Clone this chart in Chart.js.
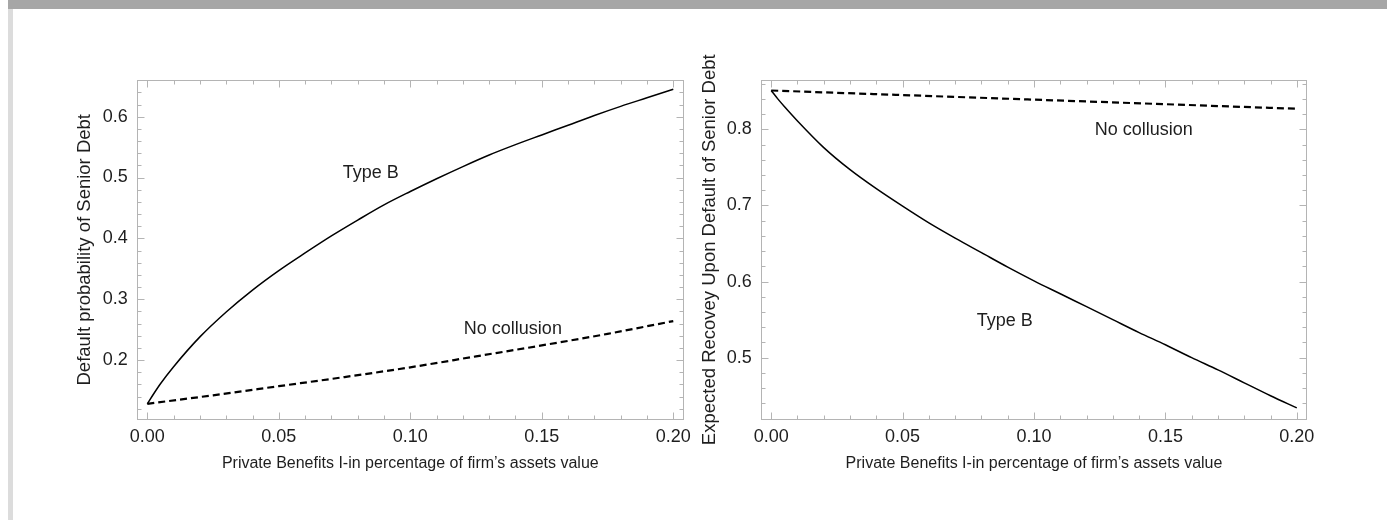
<!DOCTYPE html>
<html>
<head>
<meta charset="utf-8">
<script src="https://cdn.jsdelivr.net/npm/chart.js@4/dist/chart.umd.min.js"></script>
<style>
  html, body { margin: 0; padding: 0; background: #fff; }
  #page { position: relative; width: 1387px; height: 520px; overflow: hidden; background: #fff; }
  #topbar { position: absolute; left: 8px; top: 0; width: 1379px; height: 9px; background: #a6a6a6; }
  #sidebar { position: absolute; left: 8px; top: 9px; width: 5px; height: 511px; background: #dcdcdc; }
  canvas { position: absolute; left: 0; top: 0; }
</style>
</head>
<body>
<div id="page">
  <div id="topbar"></div>
  <div id="sidebar"></div>
  <canvas id="defaultChart" width="1387" height="520" style="width:1387px;height:520px"></canvas>
  <canvas id="recoveryChart" width="1387" height="520" style="width:1387px;height:520px"></canvas>
</div>
<script>
// Private benefits (share of firm's assets value) for the Type B curves
const benefitFine = [0, 0.0025, 0.005, 0.01, 0.02, 0.03, 0.04, 0.05, 0.06, 0.07, 0.08, 0.09,
                     0.10, 0.11, 0.12, 0.13, 0.14, 0.15, 0.16, 0.17, 0.18, 0.19, 0.20];
// Private benefits for the no-collusion curves
const benefitCoarse = [0, 0.025, 0.05, 0.075, 0.10, 0.125, 0.15, 0.175, 0.20];

// Default probability of senior debt
const defaultTypeB = [0.128, 0.145, 0.161, 0.189, 0.238, 0.279, 0.315, 0.347, 0.376, 0.404, 0.430, 0.455,
                      0.477, 0.498, 0.518, 0.537, 0.554, 0.570, 0.586, 0.602, 0.617, 0.631, 0.645];
const defaultNoCollusion = [0.128, 0.142, 0.157, 0.172, 0.188, 0.206, 0.224, 0.243, 0.264];

// Expected recovery upon default of senior debt
const recoveryTypeB = [0.851, 0.840, 0.830, 0.811, 0.776, 0.747, 0.722, 0.699, 0.677, 0.657, 0.638, 0.619,
                       0.601, 0.584, 0.567, 0.550, 0.533, 0.517, 0.500, 0.484, 0.467, 0.450, 0.434];
const recoveryNoCollusion = [0.851, 0.848, 0.845, 0.842, 0.839, 0.836, 0.833, 0.830, 0.827];

// Tick labels
const benefitTicks = [0, 0.05, 0.10, 0.15, 0.20];
const defaultTicks = [0.2, 0.3, 0.4, 0.5, 0.6];
const recoveryTicks = [0.5, 0.6, 0.7, 0.8];

// In-plot curve labels
const defaultLabels = [
  { text: 'Type B', x: 0.085, y: 0.508 },
  { text: 'No collusion', x: 0.139, y: 0.251 }
];
const recoveryLabels = [
  { text: 'No collusion', x: 0.1418, y: 0.799 },
  { text: 'Type B', x: 0.0889, y: 0.548 }
];

const FONT = "'Liberation Sans', Arial, Helvetica, sans-serif";
const TEXT = '#1e1e1e';

const toPoints = (xs, ys) => xs.map((x, i) => ({ x, y: ys[i] }));

// Frame with inward major/minor ticks on all four sides
const framePlugin = {
  id: 'frame',
  beforeDatasetsDraw(chart, args, opts) {
    const { ctx, chartArea: a, scales: { x, y } } = chart;
    const L = Math.round(a.left) + 0.5, R = Math.round(a.right) - 0.5;
    const T = Math.round(a.top) + 0.5, B = Math.round(a.bottom) - 0.5;
    ctx.save();
    ctx.strokeStyle = '#b4b4b4';
    ctx.lineWidth = 1;
    ctx.strokeRect(L, T, R - L, B - T);
    ctx.beginPath();
    const major = 7, minor = 4;
    const xStep = opts.xMinor, yStep = opts.yMinor;
    for (let k = Math.ceil(x.min / xStep - 1e-9); k * xStep <= x.max + 1e-9; k++) {
      const v = k * xStep;
      const isMajor = Math.abs(v / opts.xMajor - Math.round(v / opts.xMajor)) < 1e-6;
      const len = isMajor ? major : minor;
      const px = Math.round(x.getPixelForValue(v)) + 0.5;
      ctx.moveTo(px, B); ctx.lineTo(px, B - len);
      ctx.moveTo(px, T); ctx.lineTo(px, T + len);
    }
    for (let k = Math.ceil(y.min / yStep - 1e-9); k * yStep <= y.max + 1e-9; k++) {
      const v = k * yStep;
      const isMajor = Math.abs(v / opts.yMajor - Math.round(v / opts.yMajor)) < 1e-6;
      const len = isMajor ? major : minor;
      const py = Math.round(y.getPixelForValue(v)) + 0.5;
      ctx.moveTo(L, py); ctx.lineTo(L + len, py);
      ctx.moveTo(R, py); ctx.lineTo(R - len, py);
    }
    ctx.stroke();
    ctx.restore();
  }
};

// Curve names placed in data coordinates
const curveLabelPlugin = {
  id: 'curveLabels',
  afterDatasetsDraw(chart, args, opts) {
    const { ctx, scales: { x, y } } = chart;
    ctx.save();
    ctx.font = '18px ' + FONT;
    ctx.fillStyle = TEXT;
    ctx.textAlign = 'center';
    ctx.textBaseline = 'middle';
    for (const lab of opts.items) {
      ctx.fillText(lab.text, x.getPixelForValue(lab.x), y.getPixelForValue(lab.y));
    }
    ctx.restore();
  }
};

function buildChart(id, cfg) {
  return new Chart(document.getElementById(id), {
    type: 'scatter',
    data: {
      datasets: [
        {
          label: 'Type B',
          data: toPoints(benefitFine, cfg.typeB),
          showLine: true,
          borderColor: '#000',
          borderWidth: 1.5,
          pointRadius: 0,
          cubicInterpolationMode: 'monotone'
        },
        {
          label: 'No collusion',
          data: toPoints(benefitCoarse, cfg.noCollusion),
          showLine: true,
          borderColor: '#000',
          borderWidth: 2.2,
          borderDash: [7, 4],
          pointRadius: 0,
          cubicInterpolationMode: 'monotone'
        }
      ]
    },
    options: {
      responsive: false,
      animation: false,
      events: [],
      layout: { padding: cfg.padding },
      plugins: {
        legend: { display: false },
        tooltip: { enabled: false },
        frame: { xMinor: 0.01, xMajor: 0.05, yMinor: 0.02, yMajor: 0.1 },
        curveLabels: { items: cfg.labels }
      },
      scales: {
        x: {
          type: 'linear',
          position: 'bottom',
          min: -0.004,
          max: 0.204,
          grid: { display: false, drawTicks: false },
          border: { display: false },
          ticks: {
            padding: 7,
            autoSkip: false,
            maxRotation: 0,
            color: TEXT,
            font: { family: FONT, size: 18 },
            callback: v => Number(v).toFixed(2)
          },
          afterBuildTicks: s => { s.ticks = benefitTicks.map(v => ({ value: v })); },
          afterFit: s => { s.height = cfg.xAxisHeight; s.paddingLeft = 0; s.paddingRight = 0; },
          title: {
            display: true,
            text: 'Private Benefits I-in percentage of firm\u2019s assets value',
            color: TEXT,
            font: { family: FONT, size: 16 },
            padding: 0
          }
        },
        y: {
          type: 'linear',
          position: 'left',
          min: cfg.yMin,
          max: cfg.yMax,
          grid: { display: false, drawTicks: false },
          border: { display: false },
          ticks: {
            padding: 9,
            autoSkip: false,
            color: TEXT,
            font: { family: FONT, size: 18 },
            callback: v => Number(v).toFixed(1)
          },
          afterBuildTicks: s => { s.ticks = cfg.yTicks.map(v => ({ value: v })); },
          afterFit: s => { s.width = cfg.yAxisWidth; s.paddingTop = 0; s.paddingBottom = 0; },
          title: {
            display: true,
            text: cfg.yTitle,
            color: TEXT,
            font: { family: FONT, size: 18.5 },
            padding: 0
          }
        }
      }
    },
    plugins: [framePlugin, curveLabelPlugin]
  });
}

buildChart('defaultChart', {
  typeB: defaultTypeB,
  noCollusion: defaultNoCollusion,
  yTicks: defaultTicks,
  yMin: 0.1022,
  yMax: 0.6603,
  yTitle: 'Default probability of Senior Debt',
  labels: defaultLabels,
  padding: { left: 73.4, right: 703.2, top: 80, bottom: 46.4 },
  yAxisWidth: 63.4,
  xAxisHeight: 54.1
});

buildChart('recoveryChart', {
  typeB: recoveryTypeB,
  noCollusion: recoveryNoCollusion,
  yTicks: recoveryTicks,
  yMin: 0.4188,
  yMax: 0.8648,
  yTitle: 'Expected Recovey Upon Default of Senior Debt',
  labels: recoveryLabels,
  padding: { left: 698.4, right: 79.7, top: 80, bottom: 46.4 },
  yAxisWidth: 62.3,
  xAxisHeight: 54.1
});
</script>
</body>
</html>
